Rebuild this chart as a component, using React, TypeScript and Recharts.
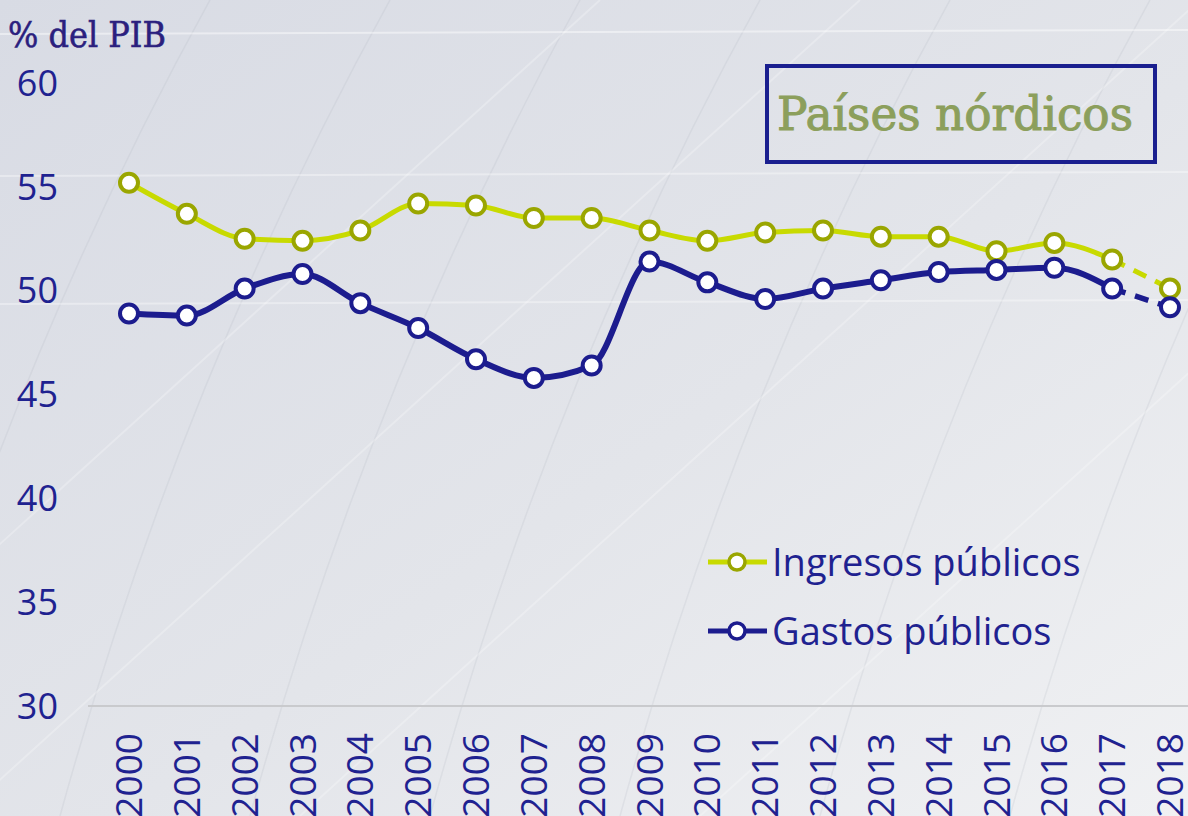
import React from 'react';
import { LineChart, Line, XAxis, YAxis, Customized } from 'recharts';

const years = ['2000', '2001', '2002', '2003', '2004', '2005', '2006', '2007', '2008', '2009', '2010', '2011', '2012', '2013', '2014', '2015', '2016', '2017', '2018'];
const ingresos = [55.2, 53.7, 52.5, 52.4, 52.9, 54.2, 54.1, 53.5, 53.5, 52.9, 52.4, 52.8, 52.9, 52.6, 52.6, 51.9, 52.3, 51.5, 50.1];
const gastos = [48.9, 48.8, 50.1, 50.8, 49.4, 48.2, 46.7, 45.8, 46.4, 51.4, 50.4, 49.6, 50.1, 50.5, 50.9, 51.0, 51.1, 50.1, 49.2];
const yTicks = [30, 35, 40, 45, 50, 55, 60];
const seriesNames = ['Ingresos públicos', 'Gastos públicos'];

// last year is a forecast: drawn dashed
const lastReal = 17;
const data = years.map((year, i) => ({
  year,
  ing: i <= lastReal ? ingresos[i] : null,
  ingP: i >= lastReal ? ingresos[i] : null,
  gas: i <= lastReal ? gastos[i] : null,
  gasP: i >= lastReal ? gastos[i] : null,
}));

const NAVY = '#1c1c8e';
const LIME = '#c8da00';
const OLIVE = '#9aa600';
const TEXT = '#1f2290';

const dotFor = (stroke: string, onlyLast = false) => (props: any) => {
  const { cx, cy, index, value } = props;
  if (value == null || cy == null || (onlyLast && index !== years.length - 1)) {
    return <g key={`d-${index}`} />;
  }
  return <circle key={`d-${index}`} cx={cx} cy={cy} r={9} fill="#fff" stroke={stroke} strokeWidth={4} />;
};

const YearTick = (props: any) => {
  const { x, y, payload } = props;
  return (
    <text
      x={0}
      y={0}
      transform={`translate(${x + 13},${y + 19}) rotate(-90)`}
      textAnchor="end"
      fill={TEXT}
      fontFamily="'Open Sans', sans-serif"
      fontSize={37}
    >
      {payload.value}
    </text>
  );
};

const Decor = () => (
  <g>
    <rect x={767} y={66} width={388} height={96} fill="none" stroke="#1a1f8f" strokeWidth={4} />
    <text
      x={777}
      y={130}
      fill="#8c9f5c"
      stroke="#8c9f5c"
      strokeWidth={1}
      fontFamily="'DejaVu Serif', serif"
      fontSize={46}
      textLength={356}
      lengthAdjust="spacingAndGlyphs"
    >
      Países nórdicos
    </text>
    <text
      x={8}
      y={47}
      fill="#2b1f7e"
      stroke="#2b1f7e"
      strokeWidth={0.6}
      fontFamily="'DejaVu Serif', serif"
      fontSize={36}
      textLength={158}
      lengthAdjust="spacingAndGlyphs"
    >
      % del PIB
    </text>
    {/* legend */}
    {[LIME, NAVY].map((c, i) => {
      const y = 562 + i * 69;
      return (
        <g key={c}>
          <line x1={708} x2={767} y1={y} y2={y} stroke={c} strokeWidth={5} />
          <circle cx={737} cy={y} r={8} fill="#fff" stroke={i === 0 ? OLIVE : NAVY} strokeWidth={3.5} />
          <text x={772} y={y + 14} fill={TEXT} fontFamily="'Open Sans', sans-serif" fontSize={38}>
            {seriesNames[i]}
          </text>
        </g>
      );
    })}
  </g>
);

const Background = () => (
  <svg width={1188} height={816} style={{ position: 'absolute', left: 0, top: 0 }}>
    <defs>
      <linearGradient id="bg" x1="0" y1="0" x2="1" y2="1">
        <stop offset="0%" stopColor="#d8dbe4" />
        <stop offset="55%" stopColor="#e3e5ea" />
        <stop offset="100%" stopColor="#f0f1f3" />
      </linearGradient>
    </defs>
    <rect width={1188} height={816} fill="url(#bg)" />
    {[-120, 60, 250, 430, 620, 820, 1010].map((x0) => (
      <path
        key={x0}
        d={`M ${x0} 816 Q ${x0 + 120} 380 ${x0 + 330} 0`}
        stroke="rgba(170,175,190,0.18)"
        strokeWidth={1.5}
        fill="none"
      />
    ))}
    {[-300, -40, 300, 700].map((x0) => (
      <path
        key={`w${x0}`}
        d={`M ${x0} 816 Q ${x0 + 350} 500 ${x0 + 900} 0`}
        stroke="rgba(255,255,255,0.25)"
        strokeWidth={2}
        fill="none"
      />
    ))}
    <line x1={0} x2={1188} y1={34} y2={30} stroke="rgba(255,255,255,0.45)" strokeWidth={2} />
    <line x1={0} x2={1188} y1={176} y2={172} stroke="rgba(255,255,255,0.35)" strokeWidth={2} />
    <line x1={0} x2={1188} y1={304} y2={300} stroke="rgba(255,255,255,0.35)" strokeWidth={2} />
  </svg>
);

export default function App() {
  return (
    <div style={{ position: 'fixed', left: 0, top: 0, width: 1188, height: 816, overflow: 'hidden' }}>
      <Background />
      <div style={{ position: 'absolute', left: 0, top: 0 }}>
        <LineChart width={1188} height={816} data={data} margin={{ top: 83, right: 0, bottom: 0, left: 0 }}>
          <XAxis
            dataKey="year"
            height={110}
            padding={{ left: 41, right: 18 }}
            axisLine={{ stroke: '#c9cacd', strokeWidth: 2 }}
            tickLine={false}
            tick={<YearTick />}
            interval={0}
          />
          <YAxis
            domain={[30, 60]}
            ticks={yTicks}
            width={88}
            axisLine={false}
            tickLine={false}
            tickSize={6}
            tickMargin={24}
            tick={{ fill: TEXT, fontSize: 36, fontFamily: "'Open Sans', sans-serif" }}
          />
          <Line
            type="monotone"
            dataKey="ingP"
            stroke={LIME}
            strokeWidth={5}
            strokeDasharray="14 10"
            dot={dotFor(OLIVE, true)}
            isAnimationActive={false}
          />
          <Line
            type="monotone"
            dataKey="gasP"
            stroke={NAVY}
            strokeWidth={5.5}
            strokeDasharray="14 10"
            dot={dotFor(NAVY, true)}
            isAnimationActive={false}
          />
          <Line
            type="monotone"
            dataKey="ing"
            stroke={LIME}
            strokeWidth={5}
            dot={dotFor(OLIVE)}
            isAnimationActive={false}
          />
          <Line
            type="monotone"
            dataKey="gas"
            stroke={NAVY}
            strokeWidth={6}
            dot={dotFor(NAVY)}
            isAnimationActive={false}
          />
          <Customized component={Decor} />
        </LineChart>
      </div>
    </div>
  );
}
